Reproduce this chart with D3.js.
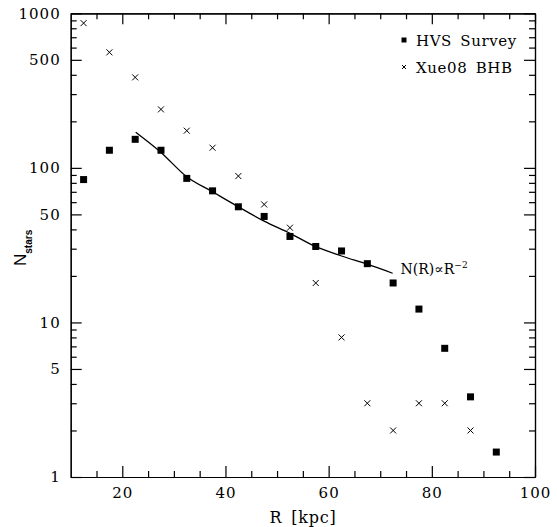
<!DOCTYPE html>
<html>
<head>
<meta charset="utf-8">
<script src="https://cdn.jsdelivr.net/npm/d3@7"></script>
<style>
  body { margin: 0; background: #fff; }
  .tick text { font-family: "DejaVu Serif", serif; font-size: 15px; fill: #000; }
  .domain, .tick line { stroke: #000; stroke-width: 1.2; }
</style>
</head>
<body>
<div id="chart"></div>
<script>

// bin centres in kpc
var radius = [12.5, 17.5, 22.5, 27.5, 32.5, 37.5, 42.5, 47.5, 52.5, 57.5, 62.5, 67.5, 72.5, 77.5, 82.5, 87.5, 92.5];

// HVS Survey counts (filled squares)
var hvsCounts = [84, 130, 153, 130, 85.5, 71, 56, 48.5, 36, 31, 29, 24, 18, 12.2, 6.8, 3.3, 1.45];

// Xue08 BHB counts (crosses), no point in the last bin
var xueCounts = [864, 559, 385, 239, 174, 135, 88.5, 58, 41, 18, 8, 3, 2, 3, 3, 2];

// model curve N(R) ~ R^-2
var modelR = [22.6, 27.6, 32.5, 37.5, 42.5, 47.5, 52.5, 57.5, 62.5, 67.5, 72.4];
var modelN = [170, 125, 87.6, 70, 56, 45.2, 37.7, 30.9, 26.9, 23.8, 20.8];

var xMajor = [20, 40, 60, 80, 100];
var xMinor = [15, 25, 30, 35, 45, 50, 55, 65, 70, 75, 85, 90, 95];
var yMajor = [1, 5, 10, 50, 100, 500, 1000];
var yMinor = [2, 3, 4, 6, 7, 8, 9, 20, 30, 40, 60, 70, 80, 90, 200, 300, 400, 600, 700, 800, 900];

var legendLabels = ["HVS Survey", "Xue08 BHB"];

// set the dimensions and margins of the graph
var margin = {top: 13.3, right: 22, bottom: 50, left: 70.7},
    width = 557 - margin.left - margin.right,
    height = 527 - margin.top - margin.bottom;

var svg = d3.select("#chart")
  .append("svg")
    .attr("width", 557)
    .attr("height", 527)
  .append("g")
    .attr("transform", "translate(" + margin.left + "," + margin.top + ")");

var x = d3.scaleLinear().domain([10, 100]).range([0, width]);
var y = d3.scaleLog().domain([1, 1000]).range([height, 0]);

var fmt = function(d) { return d; };
var none = function() { return ""; };

// bottom axis
svg.append("g")
  .attr("transform", "translate(0," + height + ")")
  .call(d3.axisBottom(x).tickValues(xMajor).tickFormat(fmt).tickSizeInner(-11).tickSizeOuter(0).tickPadding(10));
svg.append("g")
  .attr("transform", "translate(0," + height + ")")
  .call(d3.axisBottom(x).tickValues(xMinor).tickFormat(none).tickSizeInner(-6).tickSizeOuter(0));

// top axis
svg.append("g")
  .call(d3.axisTop(x).tickValues(xMajor).tickFormat(none).tickSizeInner(-11).tickSizeOuter(0));
svg.append("g")
  .call(d3.axisTop(x).tickValues(xMinor).tickFormat(none).tickSizeInner(-6).tickSizeOuter(0));

// left axis
svg.append("g")
  .call(d3.axisLeft(y).tickValues(yMajor).tickFormat(fmt).tickSizeInner(-11).tickSizeOuter(0).tickPadding(10));
svg.append("g")
  .call(d3.axisLeft(y).tickValues(yMinor).tickFormat(none).tickSizeInner(-6).tickSizeOuter(0));

// right axis
svg.append("g")
  .attr("transform", "translate(" + width + ",0)")
  .call(d3.axisRight(y).tickValues(yMajor).tickFormat(none).tickSizeInner(-11).tickSizeOuter(0));
svg.append("g")
  .attr("transform", "translate(" + width + ",0)")
  .call(d3.axisRight(y).tickValues(yMinor).tickFormat(none).tickSizeInner(-6).tickSizeOuter(0));

svg.selectAll(".tick text").attr("letter-spacing", "1px");

// model curve
var curveData = modelR.map(function(r, i) { return {r: r, n: modelN[i]}; });
svg.append("path")
  .datum(curveData)
  .attr("fill", "none")
  .attr("stroke", "#000")
  .attr("stroke-width", 1.3)
  .attr("d", d3.line()
    .x(function(d) { return x(d.r); })
    .y(function(d) { return y(d.n); })
    .curve(d3.curveMonotoneX));

svg.append("text")
  .attr("x", x(72.4) + 8)
  .attr("y", y(20.8) + 1)
  .attr("font-family", "DejaVu Serif, serif")
  .attr("font-size", 14)
  .html('N(R)\u221dR<tspan font-size="9" dy="-6">\u22122</tspan>');

// HVS squares
var sq = 7;
svg.selectAll("rect.hvs")
  .data(hvsCounts)
  .enter()
  .append("rect")
    .attr("class", "hvs")
    .attr("x", function(d, i) { return x(radius[i]) - sq / 2; })
    .attr("y", function(d) { return y(d) - sq / 2; })
    .attr("width", sq)
    .attr("height", sq)
    .attr("fill", "#000");

// Xue08 crosses
var cr = 3;
svg.selectAll("path.xue")
  .data(xueCounts)
  .enter()
  .append("path")
    .attr("class", "xue")
    .attr("transform", function(d, i) { return "translate(" + x(radius[i]) + "," + y(d) + ")"; })
    .attr("d", "M" + (-cr) + "," + (-cr) + "L" + cr + "," + cr + "M" + (-cr) + "," + cr + "L" + cr + "," + (-cr))
    .attr("stroke", "#000")
    .attr("stroke-width", 1);

// legend
var leg = svg.append("g").attr("transform", "translate(" + (404 - margin.left) + "," + (40 - margin.top) + ")");
leg.append("rect").attr("x", -2.5).attr("y", -2.5).attr("width", 5).attr("height", 5).attr("fill", "#000");
leg.append("path").attr("transform", "translate(0,27)")
  .attr("d", "M-2,-2L2,2M-2,2L2,-2").attr("stroke", "#000").attr("stroke-width", 1);
leg.selectAll("text")
  .data(legendLabels)
  .enter()
  .append("text")
    .attr("x", 12)
    .attr("y", function(d, i) { return i * 27 + 5.5; })
    .attr("font-family", "DejaVu Serif, serif")
    .attr("font-size", 15)
    .attr("letter-spacing", "0.6px")
    .attr("word-spacing", "3px")
    .text(function(d) { return d; });

// axis titles
svg.append("text")
  .attr("x", 303 - margin.left)
  .attr("y", 523 - margin.top)
  .attr("text-anchor", "middle")
  .attr("font-family", "DejaVu Serif, serif")
  .attr("font-size", 16)
  .attr("letter-spacing", "0.8px")
  .attr("word-spacing", "3px")
  .text("R [kpc]");

svg.append("text")
  .attr("transform", "translate(" + (26 - margin.left) + "," + (266 - margin.top) + ") rotate(-90)")
  .attr("font-family", "Liberation Sans, Arial, sans-serif")
  .attr("font-size", 17)
  .html('N<tspan font-size="10" font-weight="bold" dy="6">stars</tspan>');

</script>
</body>
</html>
